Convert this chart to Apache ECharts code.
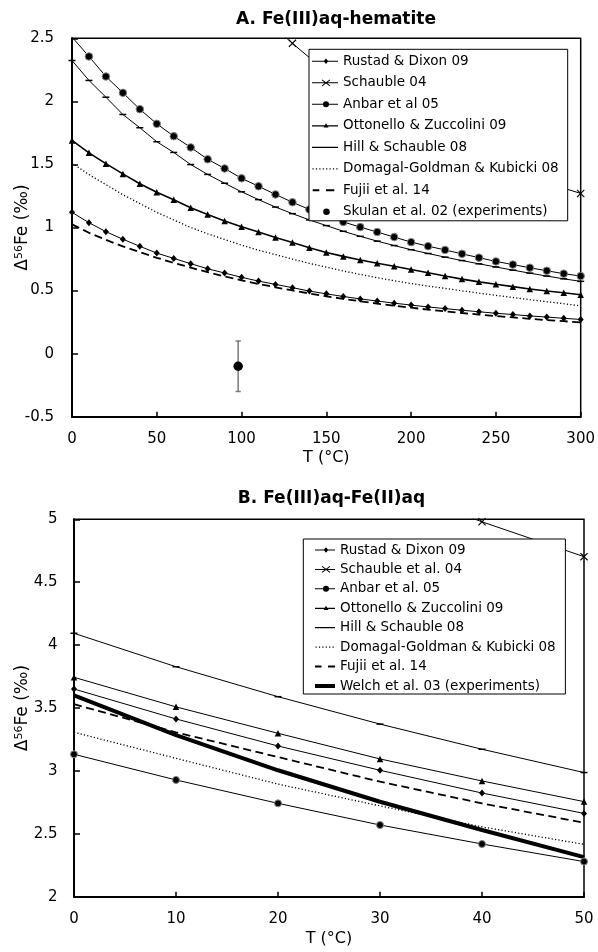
<!DOCTYPE html>
<html><head><meta charset="utf-8">
<script src="https://cdn.jsdelivr.net/npm/echarts@6/dist/echarts.min.js"></script>
<style>html,body{margin:0;padding:0;background:#fff}#c{width:598px;height:952px}</style>
</head><body><div id="c"></div>
<script>
// ---------- Panel A: Fe(III)aq - hematite ----------
const tempA = [0,10,20,30,40,50,60,70,80,90,100,110,120,130,140,150,160,170,180,190,200,210,220,230,240,250,260,270,280,290,300];
const rustadA = [1.12,1.038,0.967,0.907,0.851,0.797,0.755,0.713,0.673,0.639,0.605,0.575,0.549,0.523,0.496,0.474,0.453,0.434,0.417,0.400,0.385,0.370,0.357,0.344,0.332,0.320,0.310,0.299,0.290,0.280,0.271];
const schaubleA = [null,null,null,null,null,null,null,null,null,null,null,null,2.58,2.46,2.347,2.243,2.145,2.054,1.969,1.889,1.815,1.745,1.679,1.617,1.559,1.504,1.452,1.402,1.356,1.312,1.27];
const schaubleMarkedA = [130,300];
const anbarA = [2.51,2.356,2.197,2.068,1.938,1.822,1.724,1.635,1.541,1.468,1.39,1.327,1.262,1.2,1.143,1.092,1.044,1.003,0.964,0.924,0.884,0.852,0.822,0.791,0.761,0.731,0.706,0.681,0.657,0.634,0.615];
const ottonelloA = [1.69,1.592,1.506,1.425,1.347,1.279,1.22,1.157,1.104,1.051,1.006,0.964,0.92,0.881,0.84,0.802,0.771,0.743,0.716,0.693,0.667,0.641,0.616,0.591,0.569,0.55,0.531,0.512,0.496,0.483,0.467];
const hillA = [2.324,2.166,2.033,1.896,1.791,1.68,1.595,1.499,1.421,1.351,1.283,1.221,1.162,1.11,1.06,1.015,0.97,0.93,0.892,0.857,0.824,0.794,0.765,0.738,0.712,0.687,0.662,0.638,0.615,0.593,0.573];
const domagalA = [1.51,1.42,1.34,1.26,1.19,1.12,1.06,1.0,0.95,0.905,0.86,0.82,0.785,0.75,0.715,0.685,0.655,0.628,0.602,0.578,0.556,0.536,0.517,0.498,0.48,0.462,0.445,0.428,0.412,0.396,0.378];
const fujiiA = [1.025,0.958,0.902,0.85,0.805,0.76,0.72,0.682,0.646,0.612,0.581,0.552,0.526,0.501,0.477,0.455,0.434,0.415,0.397,0.38,0.364,0.349,0.335,0.322,0.31,0.298,0.287,0.276,0.266,0.257,0.248];
const skulanT = [98];
const skulanV = [-0.1];
const skulanErr = [0.2];
const xTicksA = [0,50,100,150,200,250,300];
const yTicksA = [-0.5,0,0.5,1,1.5,2,2.5];
const namesA = ['Rustad & Dixon 09','Schauble 04','Anbar et al 05','Ottonello & Zuccolini 09','Hill & Schauble 08','Domagal-Goldman & Kubicki 08','Fujii et al. 14','Skulan et al. 02 (experiments)'];

// ---------- Panel B: Fe(III)aq - Fe(II)aq ----------
const tempB = [0,10,20,30,40,50];
const rustadB = [3.651,3.413,3.198,3.005,2.824,2.662];
const schaubleB = [6.35,5.95,5.6,5.28,4.98,4.703];
const anbarB = [3.132,2.928,2.742,2.57,2.419,2.279];
const ottonelloB = [3.744,3.509,3.299,3.095,2.92,2.756];
const hillB = [4.094,3.828,3.59,3.372,3.172,2.987];
const domagalB = [3.307,3.1,2.895,2.722,2.555,2.416];
const fujiiB = [3.53,3.307,3.11,2.914,2.742,2.588];
const welchB = [3.6,3.285,3.005,2.755,2.53,2.315];
const xTicksB = [0,10,20,30,40,50];
const yTicksB = [2,2.5,3,3.5,4,4.5,5];
const namesB = ['Rustad & Dixon 09','Schauble et al. 04','Anbar et al. 05','Ottonello & Zuccolini 09','Hill & Schauble 08','Domagal-Goldman & Kubicki 08','Fujii et al. 14','Welch et al. 03 (experiments)'];

const FONT = 'DejaVu Sans';

function pts(xs, ys, marked){
  const o=[];
  xs.forEach((x,i)=>{
    if(ys[i]===null || ys[i]===undefined) return;
    if(marked && marked.indexOf(x)<0) o.push({value:[x, ys[i]], symbol:'none'});
    else o.push([x, ys[i]]);
  });
  return o;
}
function line(name, gi, xs, ys, st, marked){
  return Object.assign({
    type:'line', name:name, xAxisIndex:gi, yAxisIndex:gi, data:pts(xs,ys,marked),
    showAllSymbol:true, animation:false, clip:true, silent:true, z:2,
    lineStyle:{color:'#000', width:1}, itemStyle:{color:'#000'}, emphasis:{disabled:true}
  }, st);
}
const XPATH = 'path://M0,1L1,0L5,4L9,0L10,1L6,5L10,9L9,10L5,6L1,10L0,9L4,5Z';

// legend icon path helpers
function rectP(x,y,w,h){ return `M${x} ${y}L${x+w} ${y}L${x+w} ${y+h}L${x} ${y+h}Z`; }
function polyP(p){ let s=0; for(let i=0;i<p.length;i++){const j=(i+1)%p.length; s+=p[i][0]*p[j][1]-p[j][0]*p[i][1];} if(s<0) p=p.slice().reverse(); return 'M'+p.map(q=>q[0].toFixed(2)+' '+q[1].toFixed(2)).join('L')+'Z'; }
function barP(x1,y1,x2,y2,t){ const dx=x2-x1, dy=y2-y1, L=Math.hypot(dx,dy), nx=-dy/L*t/2, ny=dx/L*t/2; return polyP([[x1+nx,y1+ny],[x2+nx,y2+ny],[x2-nx,y2-ny],[x1-nx,y1-ny]]); }
function circP(cx,cy,r){ return `M${cx-r} ${cy}A${r} ${r} 0 1 1 ${cx+r} ${cy}A${r} ${r} 0 1 1 ${cx-r} ${cy}Z`; }
function frame(w,h){ return `M0 0L0.01 0L0 0.01ZM${w} ${h}L${w-0.01} ${h}L${w} ${h-0.01}Z`; }
function icons(W, cx){
  const H=14, cy=7, f=frame(W,H), ln=rectP(0,6.5,W,1);
  let dots=''; for(let i=0;i*3.4+1.2<=W;i++) dots+=rectP(0.5+i*3.4,6.4,1.2,1.2);
  return {
    rustad: f+ln+polyP([[cx,cy-2.7],[cx+2.3,cy],[cx,cy+2.7],[cx-2.3,cy]]),
    schauble: f+ln+barP(cx-4,cy-3,cx+4,cy+3,1)+barP(cx-4,cy+3,cx+4,cy-3,1),
    anbar: f+ln+circP(cx,cy,3),
    ottonello: f+rectP(0,6.35,W,1.3)+polyP([[cx,cy-2.6],[cx+2.5,cy+1.8],[cx-2.5,cy+1.8]]),
    hill: f+rectP(0,6.4,W,1.2),
    domagal: f+dots,
    skulan: f+circP(cx+0.5,cy,3.3),
    welch: f+rectP(0,5,W,4)
  };
}
const icA = icons(26, 14), icB = icons(20, 11);
const fujiiIconA = frame(26,14)+rectP(0.7,6,6.6,2)+rectP(14,6,8.3,2);
const fujiiIconB = frame(20,14)+rectP(0,6,6.5,2)+rectP(13,6,7,2);
const iconListA = [icA.rustad, icA.schauble, icA.anbar, icA.ottonello, icA.hill, icA.domagal, fujiiIconA, icA.skulan];
const iconListB = [icB.rustad, icB.schauble, icB.anbar, icB.ottonello, icB.hill, icB.domagal, fujiiIconB, icB.welch];

function seriesSet(gi, names, xs, d, schMarked){
  const big = gi===0;
  return [
    line(names[0], gi, xs, d.rustad, {symbol:'diamond', symbolSize:[6,7]}),
    line(names[1], gi, xs, d.schauble, {symbol:XPATH, symbolSize:[8,8]}, schMarked),
    line(names[2], gi, xs, d.anbar, {symbol:'circle', symbolSize:big?7.5:7, itemStyle:{color:'#000', borderColor:'#888', borderWidth:1}}),
    line(names[3], gi, xs, d.ottonello, {symbol:'triangle', symbolSize:6.5, lineStyle:{color:'#000', width:big?1.6:1}}),
    line(names[4], gi, xs, d.hill, {symbol:'rect', symbolSize:[7,1.5]}),
    line(names[5], gi, xs, d.domagal, {symbol:'none', lineStyle:{color:'#000', width:1.3, type:[1.2,2.2]}}),
    line(names[6], gi, xs, d.fujii, {symbol:'none', lineStyle:{color:'#000', width:1.8, type:[8,4.5]}})
  ];
}

const series = [].concat(
  seriesSet(0, namesA, tempA, {rustad:rustadA, schauble:schaubleA, anbar:anbarA, ottonello:ottonelloA, hill:hillA, domagal:domagalA, fujii:fujiiA}, schaubleMarkedA),
  [{
    type:'custom', xAxisIndex:0, yAxisIndex:0, silent:true, animation:false, z:3,
    data: skulanT.map((t,i)=>[t, skulanV[i], skulanErr[i]]),
    encode:{x:0, y:1},
    renderItem: function(params, api){
      const x=api.value(0), y=api.value(1), e=api.value(2);
      const top=api.coord([x, y+e]), bot=api.coord([x, y-e]);
      const c=2.6, st={stroke:'#7a7a7a', lineWidth:1.5};
      return {type:'group', children:[
        {type:'line', shape:{x1:top[0],y1:top[1],x2:bot[0],y2:bot[1]}, style:st},
        {type:'line', shape:{x1:top[0]-c,y1:top[1],x2:top[0]+c,y2:top[1]}, style:st},
        {type:'line', shape:{x1:bot[0]-c,y1:bot[1],x2:bot[0]+c,y2:bot[1]}, style:st}
      ]};
    }
  },
  {type:'scatter', name:namesA[7], xAxisIndex:0, yAxisIndex:0, data:pts(skulanT, skulanV), symbol:'circle', symbolSize:9.5, itemStyle:{color:'#000', opacity:1}, z:4, silent:true, animation:false}],
  seriesSet(1, namesB, tempB, {rustad:rustadB, schauble:schaubleB, anbar:anbarB, ottonello:ottonelloB, hill:hillB, domagal:domagalB, fujii:fujiiB}, null),
  [line(namesB[7], 1, tempB, welchB, {symbol:'none', lineStyle:{color:'#000', width:4}})]
);

function xAxis(gi, ticks, gap){
  return {gridIndex:gi, type:'value', min:ticks[0], max:ticks[ticks.length-1], interval:ticks[1]-ticks[0],
    name:'T (°C)', nameLocation:'middle', nameGap:gap, nameMoveOverlap:false, nameTextStyle:{fontFamily:FONT, fontSize:16, color:'#000'},
    axisLine:{onZero:false, lineStyle:{color:'#000', width:2}},
    axisTick:{inside:true, length:5, lineStyle:{color:'#000', width:1.5}},
    axisLabel:{color:'#000', fontFamily:FONT, fontSize:15, margin:15},
    splitLine:{show:false}};
}
function yAxis(gi, ticks, gap, margin){
  return {gridIndex:gi, type:'value', min:ticks[0], max:ticks[ticks.length-1], interval:ticks[1]-ticks[0],
    name:'{a|Δ}{b|56}{a|Fe (‰)}', nameLocation:'middle', nameGap:gap, nameRotate:90, nameMoveOverlap:false,
    nameTextStyle:{fontFamily:FONT, color:'#000', rich:{
      a:{fontFamily:FONT, fontSize:17, lineHeight:18, color:'#000'},
      b:{fontFamily:FONT, fontSize:11, lineHeight:11, verticalAlign:'top', color:'#000'}}},
    axisLine:{onZero:false, lineStyle:{color:'#000', width:2}},
    axisTick:{inside:true, length:6, lineStyle:{color:'#000', width:1.5}},
    axisLabel:{color:'#000', fontFamily:FONT, fontSize:15, margin:margin},
    splitLine:{show:false}};
}
function legend(names, iconList, left, top, pad, iw, gap){
  return {orient:'vertical', left:left, top:top, padding:pad, itemWidth:iw, itemHeight:14, itemGap:gap,
    backgroundColor:'#fff', borderColor:'#000', borderWidth:1, borderRadius:0, selectedMode:false,
    symbolKeepAspect:true, itemStyle:{borderWidth:0, opacity:1},
    textStyle:{fontFamily:FONT, fontSize:13.5, color:'#000'},
    data: names.map((n,i)=>({name:n, icon:'path://'+iconList[i]})) };
}

const chart = echarts.init(document.getElementById('c'), null, {renderer:'canvas'});
chart.setOption({
  animation:false,
  backgroundColor:'#fff',
  textStyle:{fontFamily:FONT},
  grid:[
    {left:72, top:38.3, width:509.7, height:378.4, show:true, borderColor:'#000', borderWidth:1.5, backgroundColor:'transparent'},
    {left:74, top:519.3, width:510, height:377.4, show:true, borderColor:'#000', borderWidth:1.5, backgroundColor:'transparent'}
  ],
  xAxis:[xAxis(0, xTicksA, 33), xAxis(1, xTicksB, 34)],
  yAxis:[yAxis(0, yTicksA, 40, 18), yAxis(1, yTicksB, 42, 16.5)],
  legend:[
    legend(namesA, iconListA, 309, 49.3, [5,9,2,3], 26, 7.5),
    legend(namesB, iconListB, 303.3, 539, [4,9.7,1,11.7], 20, 5.43)
  ],
  graphic:[
    {type:'text', x:336, y:19.5, style:{text:'A. Fe(III)aq-hematite', font:'bold 17px "DejaVu Sans"', fill:'#000', align:'center', verticalAlign:'middle', textAlign:'center', textVerticalAlign:'middle'}},
    {type:'text', x:331.5, y:499, style:{text:'B. Fe(III)aq-Fe(II)aq', font:'bold 17px "DejaVu Sans"', fill:'#000', align:'center', verticalAlign:'middle', textAlign:'center', textVerticalAlign:'middle'}}
  ],
  series:series
});
</script>
</body></html>
